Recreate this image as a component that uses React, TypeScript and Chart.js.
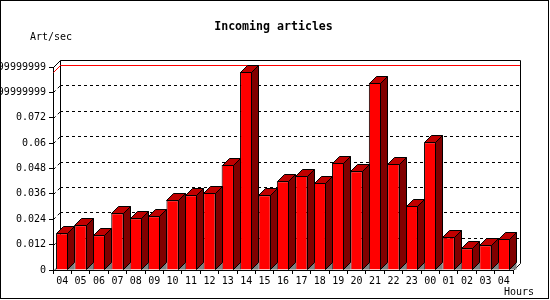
import React, { useEffect, useRef } from 'react';
import { Chart, registerables } from 'chart.js';

Chart.register(...registerables);

const hours = ['04','05','06','07','08','09','10','11','12','13','14','15','16','17','18','19','20','21','22','23','00','01','02','03','04'];
const artPerSec = [0.0174,0.0212,0.0164,0.0268,0.0245,0.0254,0.0330,0.0354,0.0365,0.0497,0.0936,0.0354,0.0420,0.0445,0.0412,0.0507,0.0467,0.0885,0.0502,0.0303,0.0604,0.0155,0.0103,0.0117,0.0147];
const yTickLabels = ['0','0.012','0.024','0.036','0.048','0.06','0.072','0.08399999999','0.09599999999'];
const yMin = 0;
const yMax = 0.096;
const yStep = 0.012;
const titleText = 'Incoming articles';
const yTitleText = 'Art/sec';
const xTitleText = 'Hours';

const DEPTH = 7;
const MONO = '"DejaVu Sans Mono", monospace';

const threeD = {
  id: 'threeD',
  beforeDatasetsDraw(chart: any) {
    const { ctx, chartArea } = chart;
    const ys = chart.scales.y;
    const L = chartArea.left, R = chartArea.right, T = chartArea.top, B = chartArea.bottom;
    const d = DEPTH;
    ctx.save();
    ctx.lineWidth = 1;
    ctx.strokeStyle = '#000';
    ctx.setLineDash([3, 3]);
    ys.ticks.forEach((t: any) => {
      const py = Math.round(ys.getPixelForValue(t.value));
      if (t.value <= yMin + 1e-9 || t.value >= yMax - 1e-9) return;
      ctx.beginPath();
      ctx.moveTo(L + d, py - d + 0.5);
      ctx.lineTo(R + d, py - d + 0.5);
      ctx.stroke();
      ctx.beginPath();
      ctx.moveTo(L + 0.5, py + 0.5);
      ctx.lineTo(L + d + 0.5, py - d + 0.5);
      ctx.stroke();
    });
    ctx.setLineDash([]);
    ctx.beginPath();
    ctx.moveTo(L + 0.5, T + 0.5);
    ctx.lineTo(L + d + 0.5, T - d + 0.5);
    ctx.lineTo(R + d + 0.5, T - d + 0.5);
    ctx.lineTo(R + d + 0.5, B - d + 0.5);
    ctx.lineTo(R + 0.5, B + 0.5);
    ctx.moveTo(L + d + 0.5, T - d + 0.5);
    ctx.lineTo(L + d + 0.5, B - d + 0.5);
    ctx.stroke();
    // left floor corner
    ctx.fillStyle = '#808080';
    ctx.beginPath();
    ctx.moveTo(L + 1, B);
    ctx.lineTo(L + 3, B - 2);
    ctx.lineTo(L + 3, B);
    ctx.closePath();
    ctx.fill();
    const maxV = Math.max(...artPerSec);
    const my = Math.round(ys.getPixelForValue(maxV));
    ctx.strokeStyle = '#ff0000';
    ctx.beginPath();
    ctx.moveTo(L + 0.5, my + 0.5);
    ctx.lineTo(L + d + 0.5, my - d + 0.5);
    ctx.lineTo(R + d, my - d + 0.5);
    ctx.stroke();
    ctx.restore();
  },
  afterDatasetsDraw(chart: any) {
    const { ctx } = chart;
    const meta = chart.getDatasetMeta(0);
    const d = DEPTH;
    ctx.save();
    ctx.lineWidth = 1;
    ctx.strokeStyle = '#000';
    meta.data.forEach((bar: any) => {
      const p = bar.getProps(['x', 'y', 'base', 'width'], true);
      const left = Math.round(p.x - p.width / 2) + 0.5;
      const right = Math.round(p.x + p.width / 2) - 0.5;
      const top = Math.round(p.y) + 0.5;
      const base = Math.round(p.base) - 0.5;
      ctx.fillStyle = '#808080';
      ctx.beginPath();
      ctx.moveTo(right, base);
      ctx.lineTo(right + d, base - d);
      ctx.lineTo(right + d, base);
      ctx.closePath();
      ctx.fill();
      ctx.fillStyle = '#c00000';
      ctx.beginPath();
      ctx.moveTo(left, top);
      ctx.lineTo(left + d, top - d);
      ctx.lineTo(right + d, top - d);
      ctx.lineTo(right, top);
      ctx.closePath();
      ctx.fill();
      ctx.stroke();
      ctx.fillStyle = '#800000';
      ctx.beginPath();
      ctx.moveTo(right, top);
      ctx.lineTo(right + d, top - d);
      ctx.lineTo(right + d, base - d);
      ctx.lineTo(right, base);
      ctx.closePath();
      ctx.fill();
      ctx.stroke();
    });
    ctx.restore();
  },
  afterDraw(chart: any) {
    const { ctx } = chart;
    ctx.save();
    ctx.fillStyle = '#000';
    ctx.textBaseline = 'middle';
    ctx.textAlign = 'center';
    ctx.font = `bold 11.6px ${MONO}`;
    ctx.fillText(titleText, 273.5, 27);
    ctx.textAlign = 'left';
    ctx.font = `10px ${MONO}`;
    ctx.fillText(yTitleText, 30, 37);
    ctx.fillText(xTitleText, 504, 292.5);
    ctx.strokeStyle = '#000';
    ctx.lineWidth = 1;
    ctx.strokeRect(0.5, 0.5, 548, 298);
    ctx.restore();
  },
};

export default function App() {
  const ref = useRef<HTMLCanvasElement | null>(null);
  useEffect(() => {
    if (!ref.current) return;
    const chart = new Chart(ref.current, {
      type: 'bar',
      data: {
        labels: hours,
        datasets: [
          {
            data: artPerSec,
            backgroundColor: '#ff0000',
            borderColor: '#000000',
            borderWidth: 1,
            barPercentage: 0.67,
            categoryPercentage: 1,
          },
        ],
      },
      options: {
        animation: false,
        responsive: false,
        devicePixelRatio: 1,
        layout: { padding: { left: 0, top: 67, right: 37, bottom: 0 } },
        plugins: { legend: { display: false }, tooltip: { enabled: false }, title: { display: false } },
        scales: {
          x: {
            offset: true,
            grid: { offset: true, drawOnChartArea: false, tickLength: 4, color: '#000' },
            border: { display: true, color: '#000' },
            ticks: { color: '#000', font: { family: MONO, size: 10 }, padding: 1, maxRotation: 0, autoSkip: false },
            afterFit(scale: any) { scale.height = 30; },
          },
          y: {
            min: yMin,
            max: yMax,
            grid: { drawOnChartArea: false, tickLength: 4, color: '#000' },
            border: { display: true, color: '#000' },
            ticks: {
              stepSize: yStep,
              color: '#000',
              font: { family: MONO, size: 10 },
              padding: 3,
              autoSkip: false,
              callback: (v: any, i: number) => yTickLabels[i] ?? String(v),
            },
            afterFit(scale: any) { scale.width = 53; },
          },
        },
      },
      plugins: [threeD],
    });
    return () => chart.destroy();
  }, []);
  return (
    <div style={{ position: 'absolute', left: 0, top: 0, width: 550, height: 300, background: '#fff' }}>
      <canvas ref={ref} width={550} height={300} />
    </div>
  );
}
